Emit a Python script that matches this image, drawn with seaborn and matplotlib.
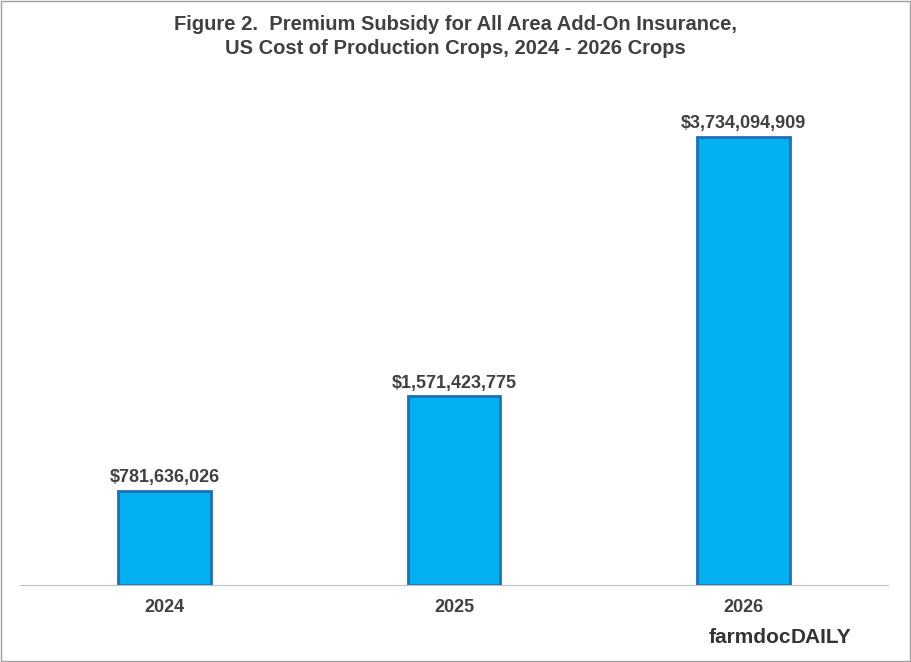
import matplotlib
matplotlib.use('Agg')
import matplotlib.pyplot as plt
import seaborn as sns
import pandas as pd

years = ['2024', '2025', '2026']
subsidy = [781636026, 1571423775, 3734094909]

sns.set_style('white')
plt.rcParams['font.family'] = ['Liberation Sans', 'DejaVu Sans']
txt = '#404040'

df = pd.DataFrame({'year': years, 'subsidy': subsidy})

fig = plt.figure(figsize=(9.11, 6.62), dpi=100)
ax = fig.add_axes([0.022, 0.1163, 0.953, 0.725])
sns.barplot(data=df, x='year', y='subsidy', color='#00B0F0', width=0.32,
            edgecolor='#1F6FB5', linewidth=2, saturation=1, ax=ax)

for i, v in enumerate(subsidy):
    ax.text(i, v + 4e7, f'${v:,.0f}', ha='center', va='bottom',
            fontsize=13, fontweight='bold', color=txt)

ax.set_ylim(0, 4.0e9)
ax.set_yticks([])
ax.set_xlabel('')
ax.set_ylabel('')
for s in ['top', 'right', 'left']:
    ax.spines[s].set_visible(False)
ax.spines['bottom'].set_color('#BFBFBF')
ax.tick_params(axis='x', length=0, pad=10, labelsize=13, labelcolor=txt)
for lab in ax.get_xticklabels():
    lab.set_fontweight('bold')

fig.text(0.5, 0.945, 'Figure 2.  Premium Subsidy for All Area Add-On Insurance,\n'
         'US Cost of Production Crops, 2024 - 2026 Crops',
         ha='center', va='center', fontsize=14.5, fontweight='bold',
         color=txt, linespacing=1.3)

fig.text(0.868, 0.022, 'farmdoc', ha='right', va='bottom', fontsize=15,
         fontweight='bold', color='#333333')
fig.text(0.868, 0.022, 'DAILY', ha='left', va='bottom', fontsize=15,
         fontweight='bold', color='#333333')

fig.patches.append(plt.Rectangle((0.001, 0.001), 0.998, 0.998, transform=fig.transFigure,
                                 fill=False, edgecolor='#A0A0A0', linewidth=1))

fig.savefig('out.png', dpi=100)
